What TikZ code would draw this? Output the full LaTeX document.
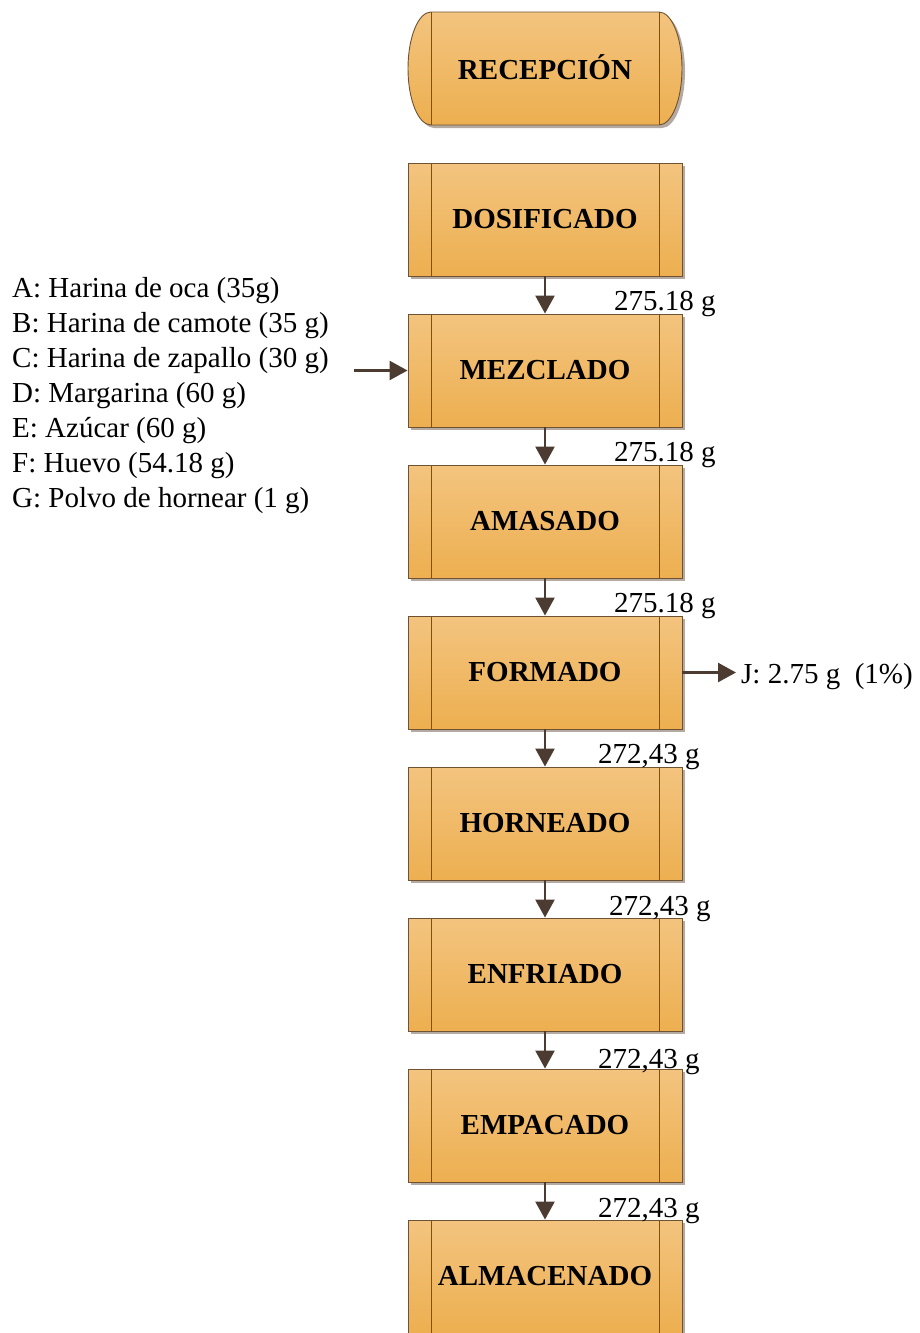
\documentclass[tikz,border=0pt]{standalone}
\usepackage{fontspec}
\setmainfont{Liberation Serif}
\usetikzlibrary{shadows,arrows.meta}
\definecolor{boxtop}{HTML}{F3C47F}
\definecolor{boxbot}{HTML}{EDAF50}
\definecolor{edgec}{HTML}{6E5232}
\definecolor{arrowc}{HTML}{4B3B30}
\definecolor{shadec}{HTML}{B4AAA2}
\tikzset{
  proc/.style={rectangle, minimum width=274pt, minimum height=113pt, inner sep=0pt,
    draw=edgec, line width=0.9pt, top color=boxtop, bottom color=boxbot,
    font=\bfseries\fontsize{29}{34}\selectfont,
    drop shadow={shadow xshift=3pt, shadow yshift=-3pt, fill=shadec, opacity=1},
    path picture={
      \draw[edgec, line width=0.9pt] ([xshift=23pt]path picture bounding box.north west) -- ([xshift=23pt]path picture bounding box.south west);
      \draw[edgec, line width=0.9pt] ([xshift=-23pt]path picture bounding box.north east) -- ([xshift=-23pt]path picture bounding box.south east);}},
  flow/.style={draw=arrowc, line width=2.5pt, -{Triangle[length=18pt,width=19pt]}},
  lbl/.style={font=\fontsize{29}{34}\selectfont, inner sep=0pt},
}
\begin{document}
\begin{tikzpicture}[x=1pt,y=-1pt]
\useasboundingbox (0,0) rectangle (919,1333);
% terminal
\fill[shadec] (434,15) -- (662,15) .. controls (674.7,15) and (685,40.3) .. (685,71.5) .. controls (685,102.7) and (674.7,128) .. (662,128) -- (434,128) .. controls (421.3,128) and (411,102.7) .. (411,71.5) .. controls (411,40.3) and (421.3,15) .. (434,15) -- cycle;
\shade[top color=boxtop, bottom color=boxbot, draw=edgec, line width=0.9pt] (431,12) -- (659,12) .. controls (671.7,12) and (682,37.3) .. (682,68.5) .. controls (682,99.7) and (671.7,125) .. (659,125) -- (431,125) .. controls (418.3,125) and (408,99.7) .. (408,68.5) .. controls (408,37.3) and (418.3,12) .. (431,12) -- cycle;
\draw[edgec, line width=0.9pt] (431,12) -- (431,125) (659,12) -- (659,125);
\node[font=\bfseries\fontsize{29}{34}\selectfont, inner sep=0pt] (rec) at (545,67) {RECEPCIÓN};
% process boxes
\node[proc] (dos) at (545,219.5) {DOSIFICADO};
\node[proc] (mez) at (545,370.5) {MEZCLADO};
\node[proc] (ama) at (545,521.5) {AMASADO};
\node[proc] (for) at (545,672.5) {FORMADO};
\node[proc] (hor) at (545,823.5) {HORNEADO};
\node[proc] (enf) at (545,974.5) {ENFRIADO};
\node[proc] (emp) at (545,1125.5) {EMPACADO};
\node[proc] (alm) at (545,1276.5) {ALMACENADO};
% connectors
\draw[flow] (dos.south) -- (mez.north);
\draw[flow] (mez.south) -- (ama.north);
\draw[flow] (ama.south) -- (for.north);
\draw[flow] (for.south) -- (hor.north);
\draw[flow] (hor.south) -- (enf.north);
\draw[flow] (enf.south) -- (emp.north);
\draw[flow] (emp.south) -- (alm.north);
% weights
\node[lbl, anchor=base west] (w1) at (614,310) {275.18 g};
\node[lbl, anchor=base west] (w2) at (614,461) {275.18 g};
\node[lbl, anchor=base west] (w3) at (614,612) {275.18 g};
\node[lbl, anchor=base west] (w4) at (598,763) {272,43 g};
\node[lbl, anchor=base west] (w5) at (609,915) {272,43 g};
\node[lbl, anchor=base west] (w6) at (598,1068) {272,43 g};
\node[lbl, anchor=base west] (w7) at (598,1217) {272,43 g};
% inputs
\node[lbl, anchor=base west] (la) at (12,297) {A: Harina de oca (35g)};
\node[lbl, anchor=base west] (lb) at (12,332) {B: Harina de camote (35 g)};
\node[lbl, anchor=base west] (lc) at (12,367) {C: Harina de zapallo (30 g)};
\node[lbl, anchor=base west] (ld) at (12,402) {D: Margarina (60 g)};
\node[lbl, anchor=base west] (le) at (12,437) {E: Azúcar (60 g)};
\node[lbl, anchor=base west] (lf) at (12,472) {F: Huevo (54.18 g)};
\node[lbl, anchor=base west] (lg) at (12,507) {G: Polvo de hornear (1 g)};
\coordinate (inA) at (354,370.5);
\draw[flow] (inA) -- (mez.west);
% output
\node[lbl, anchor=base west] (jout) at (741,683) {J: 2.75 g\ \ (1\%)};
\coordinate (jtip) at (736,672.5);
\draw[flow] (for.east) -- (jtip);
\end{tikzpicture}
\end{document}
